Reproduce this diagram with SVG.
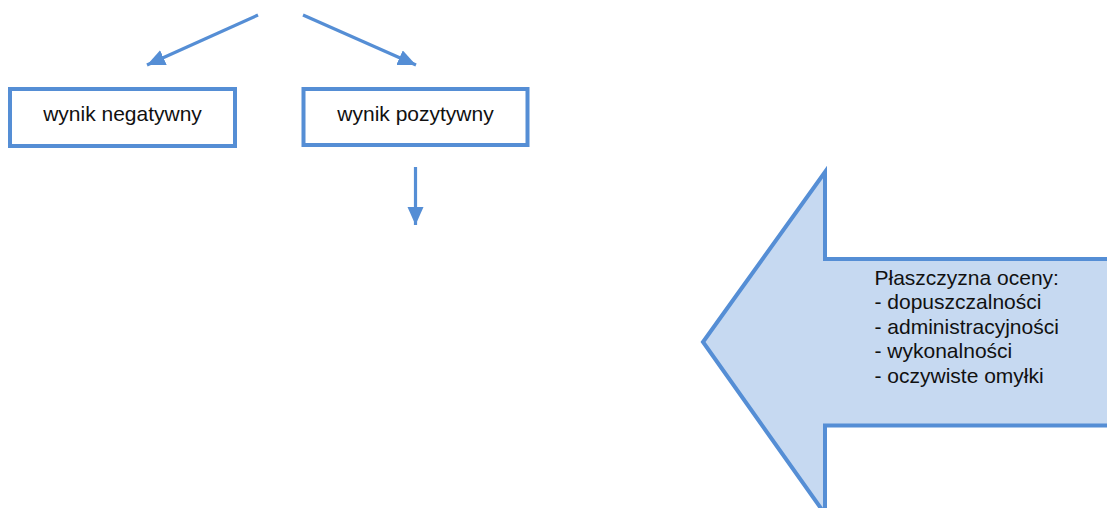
<svg xmlns="http://www.w3.org/2000/svg" width="1107" height="508" viewBox="0 0 1107 508">
<style>
.box{fill:#ffffff;stroke:#558ED5;stroke-width:4}
.lbl{font-family:"Liberation Sans",Arial,sans-serif;font-size:21px;fill:#111111}
.con{stroke:#558ED5;stroke-width:3.2;fill:none}
.big{fill:#C6D9F1;stroke:#558ED5;stroke-width:4;stroke-linejoin:miter}
</style>
<defs>
<marker id="ah" markerUnits="userSpaceOnUse" markerWidth="19" markerHeight="17" refX="18" refY="8" orient="auto">
<path d="M0,0 L18,8 L0,16 z" fill="#558ED5"/>
</marker>
</defs>
<rect width="1107" height="508" fill="#ffffff"/>
<g id="connectors">
<line class="con" x1="258" y1="15" x2="147" y2="65" marker-end="url(#ah)"/>
<line class="con" x1="303" y1="15" x2="416" y2="65" marker-end="url(#ah)"/>
<line class="con" x1="415.5" y1="167" x2="415.5" y2="225" marker-end="url(#ah)"/>
</g>
<g id="node-negatywny">
<rect class="box" x="10" y="89" width="225" height="57"/>
<text class="lbl" x="122.5" y="121" text-anchor="middle">wynik negatywny</text>
</g>
<g id="node-pozytywny">
<rect class="box" x="303.5" y="89" width="224" height="56"/>
<text class="lbl" x="415.5" y="121" text-anchor="middle">wynik pozytywny</text>
</g>
<g id="node-plaszczyzna">
<polygon class="big" points="703,342 825,172 825,259 1112,259 1112,425.5 825,425.5 825,514"/>
<text class="lbl" x="874.5" y="284.5">Płaszczyzna oceny:</text>
<text class="lbl" x="874.5" y="309">- dopuszczalności</text>
<text class="lbl" x="874.5" y="333.5">- administracyjności</text>
<text class="lbl" x="874.5" y="358">- wykonalności</text>
<text class="lbl" x="874.5" y="382.5">- oczywiste omyłki</text>
</g>
</svg>
